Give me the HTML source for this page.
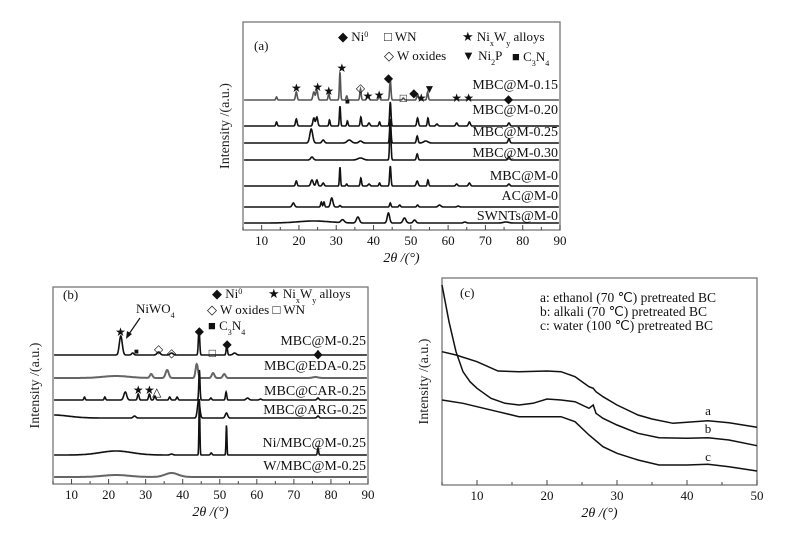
<!DOCTYPE html>
<html><head><meta charset="utf-8"><style>
html,body{margin:0;padding:0;background:#fff;}
svg{display:block;}
text{font-family:"Liberation Serif","Times New Roman",serif;}
</style></head><body>
<svg id="fig" width="787" height="534" viewBox="0 0 787 534" xmlns="http://www.w3.org/2000/svg"></svg>
<script>
// ---------- Panel (a) data: [position(deg), height, width] ----------
const aNames = ["MBC@M-0.15","MBC@M-0.20","MBC@M-0.25","MBC@M-0.30","MBC@M-0","AC@M-0","SWNTs@M-0"];
const aOffsets = [130,104,87,70,44,23,7];
const aPeaks015 = [[14,3,.25],[19.3,8,.3],[24,8,.35],[24.8,10,.35],[28,7,.25],[31,28,.22],[32.8,4,.25],[36.5,11,.25],[38.5,4,.35],[41.5,5,.25],[44.5,20,.25],[48,2,.3],[51.8,6,.3],[54.5,8,.25],[62.3,3,.35],[65.5,4,.35],[76.3,3,.35]];
const aPeaks020 = [[14,4,.25],[19.3,7,.3],[24,8,.35],[24.8,9,.35],[28.2,6,.25],[31,20,.22],[33,5,.25],[36.6,9,.25],[38.8,3,.35],[41.6,4,.25],[44.5,24,.25],[51.8,8,.3],[54.6,8,.25],[57,2,.35],[62.3,3,.35],[65.7,4,.35],[76.3,3,.35]];
const aPeaks025 = [[23.3,14,.55],[26.5,3,.45],[33.5,3,.8],[36.5,2,.6],[44.5,24,.25],[51.7,7,.3],[54,2,.8],[76.3,4,.35]];
const aPeaks030 = [[23.5,3,.5],[36.5,2,1],[44.5,38,.25],[51.7,6,.3],[76.3,3,.35]];
const aPeaksM0 = [[19.3,5,.3],[23.5,6,.45],[24.8,6,.35],[26.5,3,.35],[31,19,.2],[32.8,2,.25],[36.6,8,.25],[38.8,2,.35],[41.6,3,.25],[44.5,20,.25],[51.7,5,.35],[54.6,6,.25],[62.3,2,.35],[65.7,3,.35],[76.3,2,.35]];
const aPeaksAC = [[18.5,4,.45],[26,5,.25],[26.7,5,.25],[28.8,9,.45],[31,1.5,.3],[44.5,4,.25],[47,2,.3],[51.8,2,.3],[57.7,2,.5],[62.7,1,.4]];
const aPeaksSW = [[24,2,6],[31.7,3,.6],[35.8,6,.55],[44,10,.45],[48.3,5,.55],[51,3,.5],[64.5,1,.5],[75.5,1,1]];
const aSeries = [aPeaks015,aPeaks020,aPeaks025,aPeaks030,aPeaksM0,aPeaksAC,aPeaksSW];
const aLabelY = [89,114,136,157,180,200,220];
const xTicks90 = [10,20,30,40,50,60,70,80,90];

// ---------- Panel (b) data ----------
const bNames = ["MBC@M-0.25","MBC@EDA-0.25","MBC@CAR-0.25","MBC@ARG-0.25","Ni/MBC@M-0.25","W/MBC@M-0.25"];
const bOffsets = [129,106,84,66,29,7];
const bPeaksM = [[23.3,19,.55],[26.5,2,.4],[33.5,3,.6],[37,2,.6],[44.4,27,.25],[51.9,10,.25],[54,2,.6],[76.5,4,.35]];
const bPeaksEDA = [[22,2,5],[31.5,4,.5],[35.8,8,.6],[43.8,14,.45],[48.2,5,.5],[51.2,4,.5],[75.8,1,1]];
const bPeaksCAR = [[13.5,3,.25],[19,3,.25],[24.5,8,.55],[28,6,.3],[31,6,.3],[32.5,4,.3],[36.5,3,.3],[38.5,3,.3],[44.5,30,.22],[47.6,2,.3],[51.7,8,.25],[57.5,2,.5],[61,1,.4],[76.5,2,.35]];
const bPeaksARG = [[5,3,6],[27,2,.5],[44.3,18,.45],[51.8,5,.45],[76.5,2,.35]];
const bPeaksNi = [[22,4,6],[37,1,.5],[44.5,56,.17],[47.7,2,.3],[51.8,30,.17],[76.5,7,.22]];
const bPeaksW = [[22,2,5],[37,4,2.5]];
const bSeries = [bPeaksM,bPeaksEDA,bPeaksCAR,bPeaksARG,bPeaksNi,bPeaksW];
const bLabelY = [345,370,395,414,447,470];

// ---------- Panel (c) data ----------
const cX_a = [5,7,10,13,16,20,22,24,26,26.6,27,28,30,33,35,38,40,43,46,50];
const cY_a = [290,300,320,348,350,348,350,365,395,400,410,425,450,480,492,505,502,497,503,517];
const cX_b = [5,6,7,8,9,10,12,14,16,18,20,22,24,26,26.6,27,28,30,33,36,40,43,46,50];
const cY_b = [90,200,290,350,380,400,430,445,450,445,432,435,440,460,450,475,490,510,535,548,550,548,555,572];
const cX_c = [5,8,10,13,16,18,20,22,24,26,28,30,33,36,40,43,46,50];
const cY_c = [435,445,455,470,485,485,485,485,500,540,575,595,615,630,630,628,635,648];
const cTicks = [10,20,30,40,50];

const NS="http://www.w3.org/2000/svg";
const svg=document.getElementById('fig');
function el(tag,attrs,parent){const e=document.createElementNS(NS,tag);for(const k in attrs)e.setAttribute(k,attrs[k]);(parent||svg).appendChild(e);return e;}
function txt(s,x,y,size,anchor,parent){const t=el('text',{x:x,y:y,'font-size':size,'text-anchor':anchor||'start',fill:'#111'},parent);t.textContent=s;return t;}
// rich text: segments [text, 'n'|'sub'|'sup']
function rich(segs,x,y,size,parent){
  const t=el('text',{x:x,y:y,'font-size':size,fill:'#111'},parent);
  segs.forEach(s=>{
    const ts=el('tspan',{},t);
    if(s[1]==='sub'){ts.setAttribute('font-size',size*0.62);ts.setAttribute('baseline-shift','sub');}
    if(s[1]==='sup'){ts.setAttribute('font-size',size*0.62);ts.setAttribute('baseline-shift','super');}
    ts.textContent=s[0];
  });
  return t;
}

function makeAxes(x0,x1,y0,y1,xmin,xmax,ticks,minorStep,name){
  const g=el('g',{});
  
  
  el('rect',{x:x0,y:y0,width:x1-x0,height:y1-y0,fill:'none',stroke:'#777','stroke-width':1.3},g);
  const sx=v=>x0+(v-xmin)/(xmax-xmin)*(x1-x0);
  for(let v=Math.ceil(xmin/minorStep)*minorStep;v<=xmax;v+=minorStep){
    const major=ticks.includes(v);
    el('line',{x1:sx(v),x2:sx(v),y1:y1,y2:y1-(major?5:3),stroke:'#444','stroke-width':1},g);
  }
  ticks.forEach(v=>{const t=txt(String(v),sx(v),y1+15,13,'middle',g);
    
    });
  const xt=el('text',{x:(x0+x1)/2,y:y1+32,'font-size':14,'text-anchor':'middle','font-style':'italic',fill:'#111'},g);
  xt.textContent='2θ /(°)';
  
  
  const yt=el('text',{x:0,y:0,'font-size':14,'text-anchor':'middle',fill:'#222',transform:`translate(${x0-14},${(y0+y1)/2}) rotate(-90)`},g);
  yt.textContent='Intensity /(a.u.)';
  
  
  return sx;
}
function peakPath(sx,bottom,offset,peaks,xmin,xmax){
  let d='';
  for(let x=xmin;x<=xmax+1e-9;x+=0.08){
    let v=offset;
    peaks.forEach(p=>{v+=p[1]*Math.exp(-Math.pow((x-p[0])/p[2],2));});
    d+=(d?'L':'M')+sx(x).toFixed(1)+','+(bottom-v).toFixed(1);
  }
  return d;
}

// Panel (a)
const A={x0:243,x1:560,y0:22,y1:230};
const sxa=makeAxes(A.x0,A.x1,A.y0,A.y1,5,90,xTicks90,5,'panel-a');
aSeries.forEach((pk,i)=>{
  const p=el('path',{d:peakPath(sxa,A.y1,aOffsets[i],pk,5.3,89.7),fill:'none',stroke:i===0?'#555':'#111','stroke-width':1.6});
  
  
  const t=txt(aNames[i],558,aLabelY[i],14,'end');
  
  
});
txt('(a)',254,50,13);
const la=el('g',{});


rich([['◆ Ni'],['0','sup']],338,41,13,la);
rich([['□ WN']],384,41,13,la);
rich([['★ Ni'],['x','sub'],['W'],['y','sub'],[' alloys']],462,41,13,la);
rich([['◇ W oxides']],384,60,13,la);
rich([['▼ Ni'],['2','sub'],['P']],462,60,13,la);
rich([['■ ','n'],['C'],['3','sub'],['N'],['4','sub']],512,61,13,la);
[[19.3,92,'★'],[25,91,'★'],[28,95,'★'],[31.5,72,'★'],[38.5,100,'★'],[41.5,99,'★'],[52.8,102,'★'],[62.3,102,'★'],[65.5,102,'★'],
 [44,82,'◆'],[50.8,97,'◆'],[76.2,103,'◆'],[36.5,92,'◇'],[48,102,'□'],[55,93,'▼'],[33,104,'■']].forEach(m=>{
  const t=txt(m[2],sxa(m[0]),m[1],m[2]==='■'?8:12,'middle');
  
  
});

// Panel (b)
const B={x0:53,x1:368,y0:287,y1:484};
const sxb=makeAxes(B.x0,B.x1,B.y0,B.y1,5,90,xTicks90,5,'panel-b');
bSeries.forEach((pk,i)=>{
  const gray=(i===1||i===5);
  const p=el('path',{d:peakPath(sxb,B.y1,bOffsets[i],pk,5.3,89.7),fill:'none',stroke:gray?'#666':'#111','stroke-width':gray?2:1.6});
  
  
  const t=txt(bNames[i],366,bLabelY[i],14,'end');
  
  
});
txt('(b)',63,299,13);
const lb=el('g',{});


rich([['◆ Ni'],['0','sup']],212,298,13,lb);
rich([['★ Ni'],['x','sub'],['W'],['y','sub'],[' alloys']],268,298,13,lb);
rich([['◇ W oxides □ WN']],207,314,13,lb);
rich([['■ '],['C'],['3','sub'],['N'],['4','sub']],208,330,13,lb);
rich([['NiWO'],['4','sub']],136,313,13);
el('line',{x1:140,y1:318,x2:129,y2:334,stroke:'#111','stroke-width':1.2});
el('path',{d:'M126,339 L127,331 L132,334 Z',fill:'#111'});
[[23.2,336,'★'],[27.5,354,'■'],[33.5,353,'◇'],[37,357,'◇'],[48,357,'□'],[44.5,335,'◆'],[52,348,'◆'],[76.5,358,'◆'],[28,394,'★'],[31,394,'★'],[33,396,'△']].forEach(m=>{
  const t=txt(m[2],sxb(m[0]),m[1],m[2]==='■'?8:12,'middle');
  
  
});

// Panel (c)
const C={x0:442,x1:757,y0:278,y1:485};
const sxc=makeAxes(C.x0,C.x1,C.y0,C.y1,5,50,cTicks,5,'panel-c');
const cy=z=>255+z/3;
[[cX_a,cY_a,'a'],[cX_b,cY_b,'b'],[cX_c,cY_c,'c']].forEach(s=>{
  let d='';
  s[0].forEach((x,i)=>{d+=(i?'L':'M')+sxc(x).toFixed(1)+','+cy(s[1][i]).toFixed(1);});
  const p=el('path',{d:d,fill:'none',stroke:'#111','stroke-width':1.5});
  
  
});
txt('(c)',460,297,13);
[['a',43,415],['b',43,433],['c',43,461]].forEach(l=>{
  const t=txt(l[0],sxc(l[1]),l[2],13,'middle');
  
  
});
const lc=el('g',{});


txt('a: ethanol (70 ℃) pretreated BC',540,302,13.5,'start',lc);
txt('b: alkali  (70 ℃) pretreated BC',540,316,13.5,'start',lc);
txt('c: water  (100 ℃) pretreated BC',540,330,13.5,'start',lc);
</script>
</body></html>
